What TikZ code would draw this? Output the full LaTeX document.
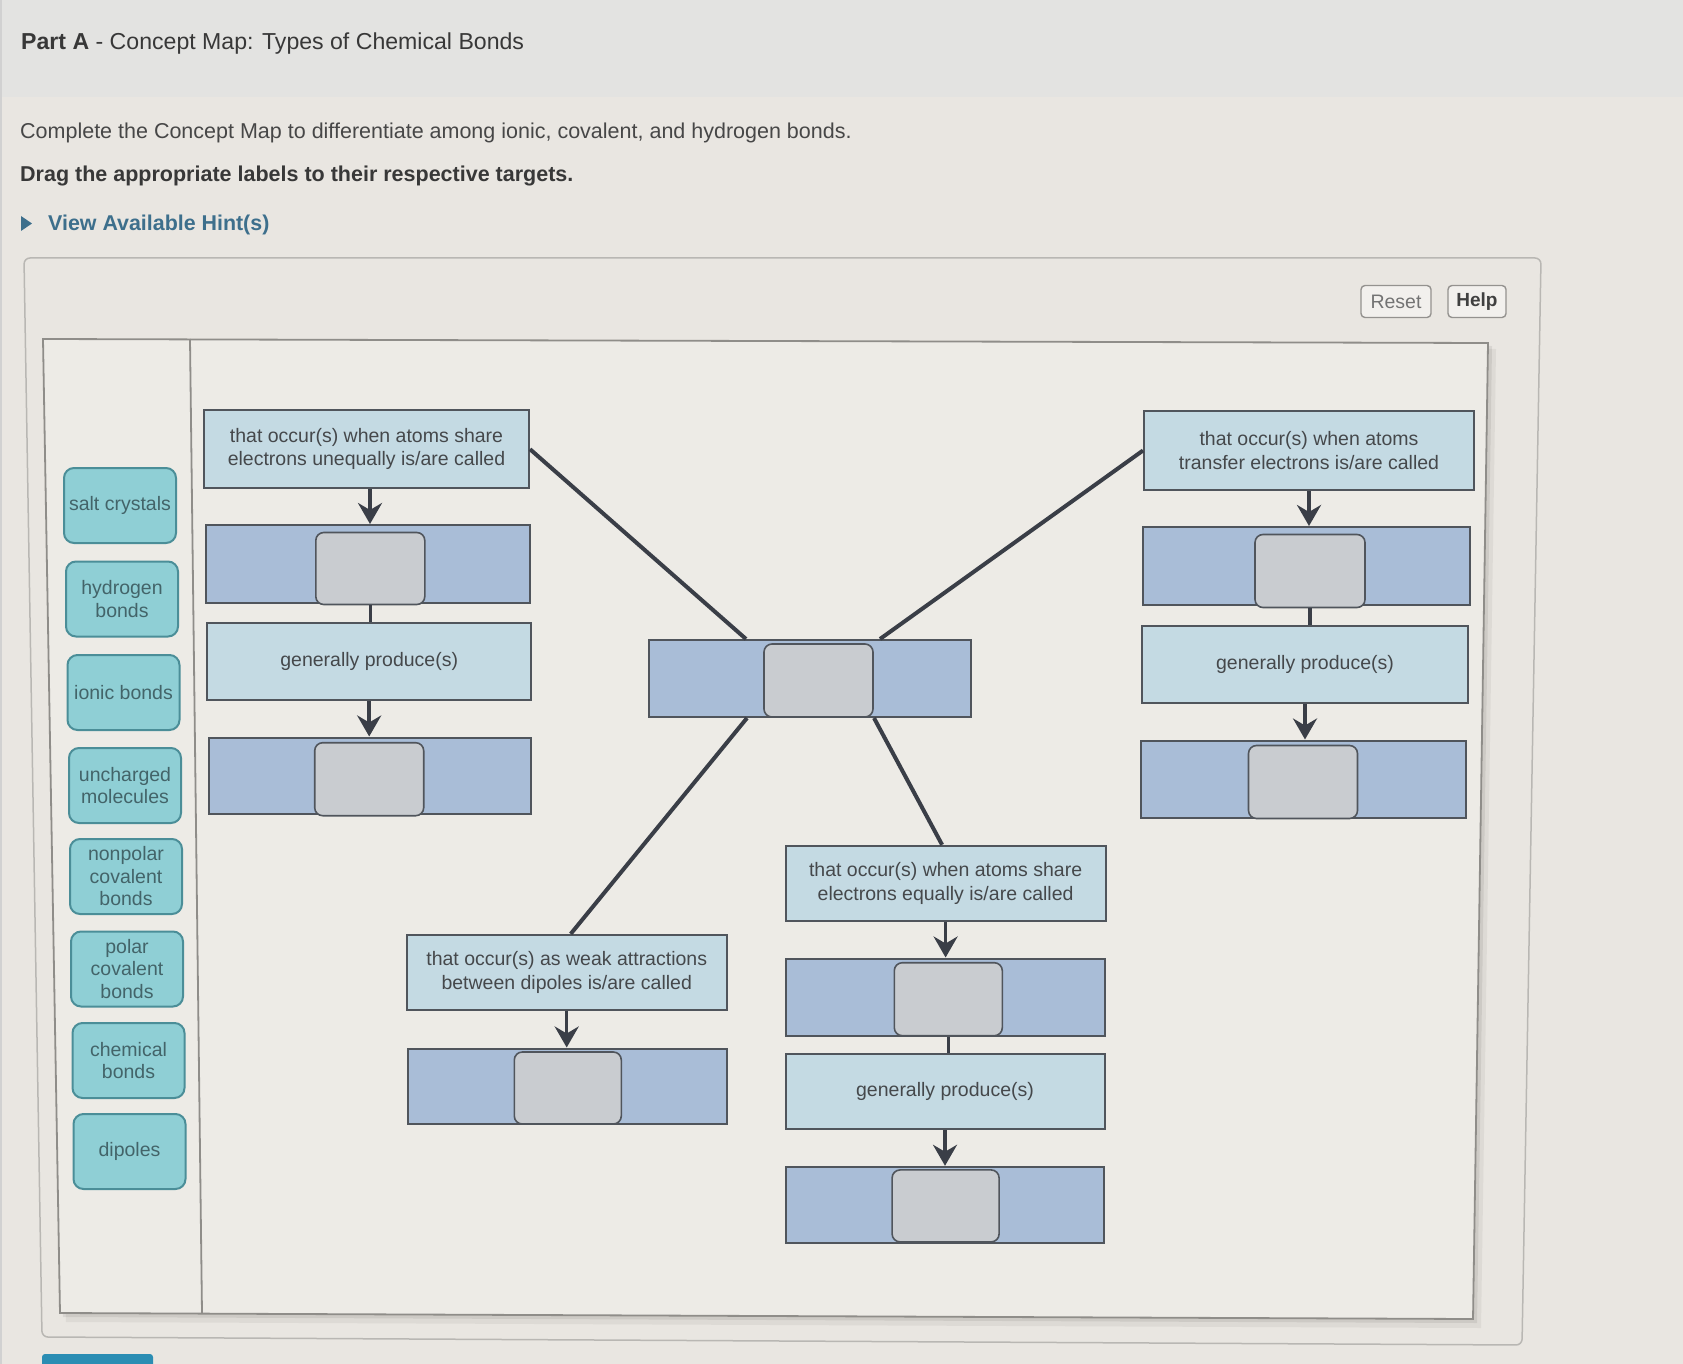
\documentclass[tikz,border=0pt]{standalone}
\usepackage{fontspec}
\setmainfont{Liberation Sans}
\usetikzlibrary{arrows.meta,calc}
\definecolor{bgc}{HTML}{E9E6E1}
\definecolor{hdrc}{HTML}{E3E3E1}
\definecolor{panelc}{HTML}{EDEBE6}
\definecolor{panelb}{HTML}{8F8D89}
\definecolor{outerb}{HTML}{B9B7B3}
\definecolor{txtblue}{HTML}{C4DAE3}
\definecolor{tgtblue}{HTML}{A9BDD7}
\definecolor{slotc}{HTML}{C9CCD0}
\definecolor{boxb}{HTML}{50555C}
\definecolor{linec}{HTML}{3A3E47}
\definecolor{txtc}{HTML}{45484B}
\definecolor{tilec}{HTML}{8FCFD5}
\definecolor{tileb}{HTML}{4B8E98}
\definecolor{tilet}{HTML}{436469}
\definecolor{hintc}{HTML}{3D6F8C}
\definecolor{btnc}{HTML}{2B8DB3}
\begin{document}
\begin{tikzpicture}[x=1pt,y=-1pt,
  boxfont/.style={font=\fontsize{19.5}{23.5}\selectfont},
  tbox/.style={rectangle, draw=boxb, line width=2pt, fill=txtblue, align=center, inner sep=0pt, text=txtc, boxfont},
  tgt/.style={rectangle, draw=boxb, line width=2pt, fill=tgtblue, inner sep=0pt},
  slot/.style={rectangle, rounded corners=8pt, draw=boxb, line width=1.6pt, fill=slotc, inner sep=0pt},
  tile/.style={rectangle, rounded corners=10pt, draw=tileb, line width=2pt, fill=tilec, align=center, inner sep=0pt, text=tilet, minimum width=112pt, minimum height=75pt, font=\fontsize{19.5}{22.5}\selectfont},
  btn/.style={rectangle, rounded corners=4pt, draw=outerb!80!black, line width=1.4pt, fill=bgc!60!white, inner sep=0pt, minimum height=32pt, font=\fontsize{19.5}{22}\selectfont},
  arr/.style={draw=linec, line width=3.5pt, -{Stealth[length=21pt,width=24pt,inset=7pt]}},
  link/.style={draw=linec, line width=3.5pt},
  diag/.style={draw=linec, line width=4pt}
]
\useasboundingbox (0,0) rectangle (1683,1364);
% page background
\fill[bgc] (0,0) rectangle (1683,1364);
\fill[hdrc] (0,0) rectangle (1683,97);
\fill[black!18] (0,0) rectangle (2,1364);

% header texts
\node[anchor=west, inner sep=0pt, text=black!78, font=\fontsize{23.1}{27}\selectfont] (title) at (21,44) {\textbf{Part A} - Concept Map: Types of Chemical Bonds};
\node[anchor=west, inner sep=0pt, text=black!72, font=\fontsize{21.5}{25}\selectfont] (intro) at (20,133) {Complete the Concept Map to differentiate among ionic, covalent, and hydrogen bonds.};
\node[anchor=west, inner sep=0pt, text=black!78, font=\bfseries\fontsize{21.5}{25}\selectfont] (drag) at (20,176) {Drag the appropriate labels to their respective targets.};
\fill[hintc] (21,216) -- (32,223.5) -- (21,231) -- cycle;
\node[anchor=west, inner sep=0pt, text=hintc, font=\bfseries\fontsize{21.4}{25}\selectfont] (hint) at (48,225) {View Available Hint(s)};

% outer panel
\draw[outerb, line width=1.5pt, rounded corners=6pt] (24,258) -- (1541,258) -- (1522,1345) -- (42,1337) -- cycle;
% bottom button (cut off)
\fill[btnc, rounded corners=3pt] (42,1354) rectangle (153,1380);

% Reset / Help
\node[btn, minimum width=70pt, text=black!55] (reset) at (1396,301.5) {Reset};
\node[btn, minimum width=58pt, text=black!75, font=\bfseries\fontsize{19}{22}\selectfont] (help) at (1477,301.5) {Help};

% main panel shadow and panel
\fill[black, opacity=0.05] (49,345) -- (1496,349) -- (1481,1328) -- (66,1322) -- cycle;
\fill[black, opacity=0.07] (46,342) -- (1492,346) -- (1477,1323) -- (63,1317) -- cycle;
\filldraw[fill=panelc, draw=panelb, line width=1.8pt] (43,339) -- (1488,343) -- (1473,1319) -- (60,1313) -- cycle;
\draw[panelb, line width=1.8pt] (190,339) -- (202,1313);

% label tiles
\node[tile] (t1) at (120,505.5) {salt crystals};
\node[tile] (t2) at (122,599) {hydrogen\\bonds};
\node[tile] (t3) at (123.5,692.5) {ionic bonds};
\node[tile] (t4) at (125,785.5) {uncharged\\molecules};
\node[tile] (t5) at (126,876.5) {nonpolar\\covalent\\bonds};
\node[tile] (t6) at (127,969) {polar\\covalent\\bonds};
\node[tile] (t7) at (128.5,1060.5) {chemical\\bonds};
\node[tile] (t8) at (129.5,1151.5) {dipoles};

% left chain
\node[tbox, minimum width=325pt, minimum height=78pt] (L1) at (366.5,449.2) {that occur(s) when atoms share\\electrons unequally is/are called};
\node[tgt, minimum width=324pt, minimum height=78pt] (L2) at (368.2,564) {};
\node[slot, minimum width=109pt, minimum height=72pt] (L2s) at (370.3,568.5) {};
\node[tbox, minimum width=324pt, minimum height=77pt] (L3) at (369.2,661.2) {generally produce(s)};
\node[tgt, minimum width=322pt, minimum height=76pt] (L4) at (370.3,775.5) {};
\node[slot, minimum width=109pt, minimum height=73pt] (L4s) at (369.2,779.2) {};

% right chain
\node[tbox, minimum width=330pt, minimum height=79pt] (R1) at (1309,450.5) {that occur(s) when atoms\\transfer electrons is/are called};
\node[tgt, minimum width=327pt, minimum height=78pt] (R2) at (1306.5,566) {};
\node[slot, minimum width=110pt, minimum height=73pt] (R2s) at (1310,571) {};
\node[tbox, minimum width=326pt, minimum height=77pt] (R3) at (1305,664.4) {generally produce(s)};
\node[tgt, minimum width=325pt, minimum height=77pt] (R4) at (1303.5,779) {};
\node[slot, minimum width=109pt, minimum height=73pt] (R4s) at (1303,782) {};

% center
\node[tgt, minimum width=322pt, minimum height=77pt] (C) at (810,678.5) {};
\node[slot, minimum width=109pt, minimum height=73pt] (Cs) at (818.5,680.5) {};

% lower left chain
\node[tbox, minimum width=320pt, minimum height=75pt] (D1) at (566.7,972.4) {that occur(s) as weak attractions\\between dipoles is/are called};
\node[tgt, minimum width=319pt, minimum height=75pt] (D2) at (567.2,1086) {};
\node[slot, minimum width=107pt, minimum height=72pt] (D2s) at (567.8,1088) {};

% lower right chain
\node[tbox, minimum width=320pt, minimum height=75pt] (E1) at (945.6,883.3) {that occur(s) when atoms share\\electrons equally is/are called};
\node[tgt, minimum width=319pt, minimum height=77pt] (E2) at (945,997) {};
\node[slot, minimum width=108pt, minimum height=73pt] (E2s) at (948.3,999.2) {};
\node[tbox, minimum width=319pt, minimum height=75pt] (E3) at (945,1091.5) {generally produce(s)};
\node[tgt, minimum width=318pt, minimum height=76pt] (E4) at (944.5,1204.8) {};
\node[slot, minimum width=107pt, minimum height=72pt] (E4s) at (945.6,1205.9) {};

% vertical connectors
\draw[arr] ([xshift=3.5pt]L1.south) -- ([xshift=3.5pt]L1.south |- L2.north);
\draw[link] (L2s.south) -- (L2s.south |- L3.north);
\draw[arr] (L3.south) -- (L3.south |- L4.north);
\draw[arr] (R1.south) -- (R1.south |- R2.north);
\draw[link] (R2s.south) -- (R2s.south |- R3.north);
\draw[arr] (R3.south) -- (R3.south |- R4.north);
\draw[arr] (D1.south) -- (D1.south |- D2.north);
\draw[arr] (E1.south) -- (E1.south |- E2.north);
\draw[link] (E2s.south) -- (E2s.south |- E3.north);
\draw[arr] (E3.south) -- (E3.south |- E4.north);

% diagonal connectors
\draw[diag] (L1.east) -- ([xshift=-64pt]C.north);
\draw[diag] (R1.west) -- ([xshift=70pt]C.north);
\draw[diag] ([xshift=-63pt]C.south) -- ([xshift=4pt]D1.north);
\draw[diag] ([xshift=64pt]C.south) -- ([xshift=-3.5pt]E1.north);
\end{tikzpicture}
\end{document}
